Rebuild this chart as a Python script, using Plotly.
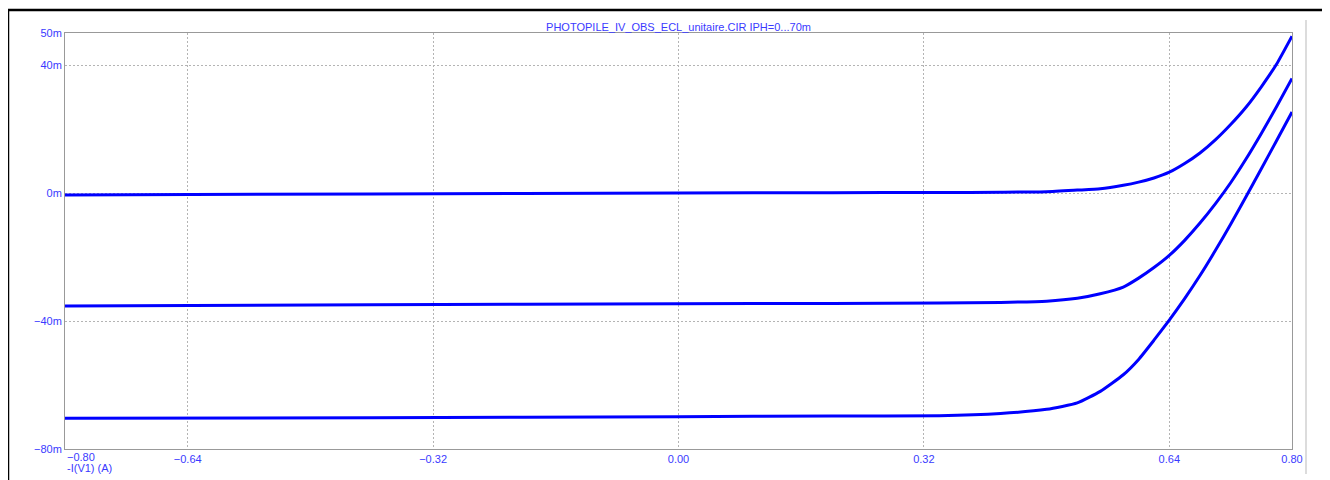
import plotly.graph_objects as go

# ---- data ----
voltage = [-0.80, -0.40, 0.00, 0.20, 0.34, 0.42, 0.48, 0.52, 0.55, 0.58, 0.60,
           0.62, 0.64, 0.66, 0.68, 0.70, 0.72, 0.74, 0.76, 0.78, 0.80]
i_iph0 = [-0.6, -0.3, 0.0, 0.1, 0.15, 0.25, 0.4, 0.9, 1.3, 2.4, 3.4,
          4.7, 6.5, 9.2, 12.5, 16.6, 21.4, 26.8, 33.2, 40.3, 49.0]
i_iph35 = [-35.3, -34.9, -34.6, -34.5, -34.4, -34.2, -33.8, -32.9, -31.5, -29.4, -26.6,
           -23.3, -19.5, -14.8, -9.4, -3.4, 3.2, 10.6, 18.6, 27.0, 35.8]
i_iph70 = [-70.4, -70.2, -69.9, -69.7, -69.6, -68.9, -67.6, -65.6, -62.0, -56.8, -52.0,
           -46.0, -39.7, -33.0, -25.8, -18.0, -9.8, -1.2, 7.6, 16.4, 25.3]
series = [("IPH=0", i_iph0), ("IPH=35m", i_iph35), ("IPH=70m", i_iph70)]

x_ticks = [-0.80, -0.64, -0.32, 0.00, 0.32, 0.64, 0.80]
x_ticktext = ["", "\u22120.64", "\u22120.32", "0.00", "0.32", "0.64", "0.80"]
y_ticks = [50, 40, 0, -40, -80]
y_ticktext = ["50m", "40m", "0m", "\u221240m", "\u221280m"]
title_text = "PHOTOPILE_IV_OBS_ECL_unitaire.CIR IPH=0...70m"
x_title = "-I(V1) (A)"

LBL = "#3a3aff"
FONT = "Liberation Sans"

fig = go.Figure()
for name, vals in series:
    fig.add_trace(go.Scatter(x=voltage, y=vals, mode="lines", name=name,
                             line=dict(color="#0000ff", width=3, shape="spline", smoothing=0.5),
                             showlegend=False))

# the page body adds an 8px offset; screen positions below are converted
OFF = 8
W, H = 1330, 480
L, R, T, B = 65, 1292, 33, 449          # plot area on screen
pw, ph = R - L, B - T

def px(xp):
    return (xp - L) / pw

def py(yp):
    return (B - yp) / ph

fig.update_layout(
    width=W, height=H,
    margin=dict(l=L - OFF, r=W - (R - OFF), t=T - OFF, b=H - (B - OFF), pad=0),
    paper_bgcolor="white", plot_bgcolor="white",
    font=dict(family=FONT, size=11, color=LBL),
    title=dict(text=title_text, x=0.5, xref="paper", xanchor="center",
               y=1 - (27 - OFF) / H, yanchor="middle",
               font=dict(family=FONT, size=11, color=LBL)),
    xaxis=dict(range=[-0.80, 0.80], tickvals=x_ticks, ticktext=x_ticktext,
               showgrid=True, gridcolor="#b4b4b4", griddash="2px,2px", gridwidth=1,
               showline=True, linecolor="#999999", linewidth=1, mirror=True,
               zeroline=False, ticks="", tickfont=dict(family=FONT, size=11, color=LBL)),
    yaxis=dict(range=[-80, 50], tickvals=y_ticks, ticktext=y_ticktext,
               showgrid=True, gridcolor="#b4b4b4", griddash="2px,2px", gridwidth=1,
               showline=True, linecolor="#999999", linewidth=1, mirror=True,
               zeroline=False, ticks="", tickfont=dict(family=FONT, size=11, color=LBL)),
)

# first x tick label, left-aligned at the axis start
fig.add_annotation(x=-0.80, xref="x", xanchor="left", y=py(457), yref="paper",
                   yanchor="middle", text="\u22120.80", showarrow=False,
                   font=dict(family=FONT, size=11, color=LBL))
# x-axis title
fig.add_annotation(x=0, xref="paper", xanchor="left", y=py(468), yref="paper",
                   yanchor="middle", text=x_title, showarrow=False,
                   font=dict(family=FONT, size=11, color=LBL))

# outer window frame
fig.add_shape(type="rect", xref="paper", yref="paper",
              x0=px(8), x1=px(1323.5), y0=py(520), y1=py(10),
              line=dict(color="black", width=2.5), fillcolor="rgba(0,0,0,0)", layer="above")
# light grey separator at the right
fig.add_shape(type="line", xref="paper", yref="paper",
              x0=px(1306), x1=px(1306), y0=py(474), y1=py(20),
              line=dict(color="#d0d0d0", width=1.5))

fig.write_html("out.html")
